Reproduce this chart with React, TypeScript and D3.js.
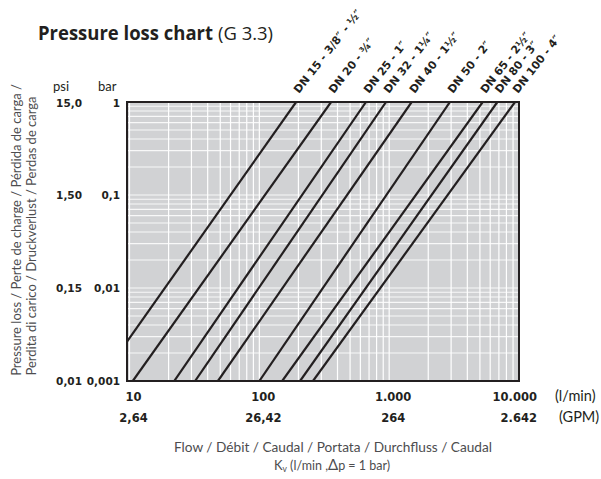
import React from "react";
import * as d3 from "d3";

const sizes = [
  "DN 15 - 3/8″ - ½″",
  "DN 20 - ¾″",
  "DN 25 - 1″",
  "DN 32 - 1¼″",
  "DN 40 - 1½″",
  "DN 50 - 2″",
  "DN 65 - 2½″",
  "DN 80 - 3″",
  "DN 100 - 4″",
];
// flow (l/min) where each curve reaches 1 bar and 0.001 bar
const flowAt1bar = [192, 357, 663, 946, 1490, 2940, 5250, 6810, 9320];
const flowAtMinBar = [5.85, 10.6, 22.1, 32, 48, 100, 150, 206, 259];

const barTicks = [1, 0.1, 0.01, 0.001];
const barLabels = ["1", "0,1", "0,01", "0,001"];
const psiLabels = ["15,0", "1,50", "0,15", "0,01"];
const flowTicks = [10, 100, 1000, 10000];
const flowLabels = ["10", "100", "1.000", "10.000"];
const gpmLabels = ["2,64", "26,42", "264", "2.642"];

const W = 601;
const H = 479;
const INK = "#231f20";

export default function App() {
  const x = d3.scaleLog().domain([10, 10000]).range([129.5, 519]);
  const y = d3.scaleLog().domain([0.001, 1]).range([381, 102]);
  const left = x(10) - 2.5;
  const right = x(10000);
  const top = y(1);
  const bottom = y(0.001);

  const xGrid: number[] = [];
  [10, 100, 1000].forEach((d) => {
    for (let k = 1; k <= 9; k++) xGrid.push(k * d);
  });
  const yGrid: number[] = [];
  [0.001, 0.01, 0.1].forEach((d) => {
    for (let k = 1; k <= 9; k++) yGrid.push(k * d);
  });

  const line = d3
    .line<[number, number]>()
    .x((d) => x(d[0]))
    .y((d) => y(d[1]));

  const bold = "'DejaVu Sans', sans-serif";
  const light = "Lato, 'Open Sans', sans-serif";

  return (
    <svg
      width={W}
      height={H}
      style={{ position: "absolute", left: 0, top: 0, background: "#fff" }}
    >
      <defs>
        <clipPath id="plot">
          <rect x={left} y={top} width={right - left} height={bottom - top} />
        </clipPath>
      </defs>

      {/* title */}
      <text
        x={38}
        y={40}
        fontFamily="'Open Sans', sans-serif"
        fontWeight={700}
        fontSize={19}
        fill={INK}
        textLength={175}
        lengthAdjust="spacingAndGlyphs"
      >
        Pressure loss chart
      </text>
      <text
        x={218}
        y={40}
        fontFamily="'Open Sans', sans-serif"
        fontSize={18}
        fill={INK}
        textLength={55}
        lengthAdjust="spacingAndGlyphs"
      >
        (G 3.3)
      </text>

      {/* plot background */}
      <rect x={left} y={top} width={right - left} height={bottom - top} fill="#d1d2d4" />
      <g clipPath="url(#plot)">
        {xGrid.map((v) => (
          <line key={"gx" + v} x1={x(v)} x2={x(v)} y1={top} y2={bottom} stroke="#fff" strokeWidth={1.2} />
        ))}
        {yGrid.map((v) => (
          <line key={"gy" + v} x1={left} x2={right} y1={y(v)} y2={y(v)} stroke="#fff" strokeWidth={1.2} opacity={0.85} />
        ))}
        {flowAt1bar.map((q, i) => (
          <path
            key={"l" + i}
            d={line([
              [flowAtMinBar[i], 0.001],
              [q, 1],
            ]) as string}
            fill="none"
            stroke={INK}
            strokeWidth={2.2}
          />
        ))}
      </g>
      <rect x={left} y={top} width={right - left} height={bottom - top} fill="none" stroke={INK} strokeWidth={2} />

      {/* size labels */}
      {sizes.map((s, i) => (
        <text
          key={"s" + i}
          transform={`translate(${x(flowAt1bar[i]) + 3},94) rotate(-52)`}
          fontFamily={bold}
          fontWeight={700}
          fontSize={11}
          fill={INK}
        >
          {s}
        </text>
      ))}

      {/* y axis units */}
      <text x={53} y={91} fontFamily={light} fontSize={13} fill={INK}>psi</text>
      <text x={98} y={91} fontFamily={light} fontSize={13} fill={INK}>bar</text>

      {barTicks.map((v, i) => (
        <g key={"yt" + i} fontFamily={bold} fontWeight={700} fontSize={10.5} fill={INK}>
          <text x={120} y={y(v) + (i === 0 ? 5 : 4)} textAnchor="end">{barLabels[i]}</text>
          <text x={82} y={y(v) + (i === 0 ? 5 : 4)} textAnchor="end">{psiLabels[i]}</text>
        </g>
      ))}

      {/* x axis labels */}
      {flowTicks.map((v, i) => {
        const last = i === flowTicks.length - 1;
        const xx = last ? x(v) + 18 : x(v) + 4;
        const anchor = last ? "end" : "middle";
        return (
          <g key={"xt" + i} fontFamily={bold} fontWeight={700} fontSize={11.5} fill={INK}>
            <text x={xx} y={401} textAnchor={anchor}>{flowLabels[i]}</text>
            <text x={xx} y={422} textAnchor={anchor}>{gpmLabels[i]}</text>
          </g>
        );
      })}
      <text x={555} y={401} fontFamily={light} fontSize={14.5} fill={INK}>(l/min)</text>
      <text x={559} y={422} fontFamily={light} fontSize={14.5} fill={INK}>(GPM)</text>

      {/* y axis title */}
      <g fontFamily={light} fontSize={13} fill="#4d4d4f">
        <text transform="translate(21,230) rotate(-90)" textAnchor="middle">
          Pressure loss / Perte de charge / Pérdida de carga /
        </text>
        <text transform="translate(36,236) rotate(-90)" textAnchor="middle">
          Perdita di carico / Druckverlust / Perdas de carga
        </text>
      </g>

      {/* footer */}
      <text
        x={174}
        y={452}
        fontFamily={light}
        fontSize={12.5}
        fill="#4d4d4f"
        textLength={318}
        lengthAdjust="spacingAndGlyphs"
      >
        Flow / Débit / Caudal / Portata / Durchfluss / Caudal
      </text>
      <text x={332} y={470} textAnchor="middle" fontFamily={light} fontSize={12.5} fill="#4d4d4f">
        <tspan fontSize={13}>K</tspan>
        <tspan fontSize={8.5} dy={2}>v</tspan>
        <tspan dy={-2}> (l/min ,</tspan>
        <tspan fontSize={15}>Δ</tspan>
        <tspan>p =  1 bar)</tspan>
      </text>
    </svg>
  );
}
